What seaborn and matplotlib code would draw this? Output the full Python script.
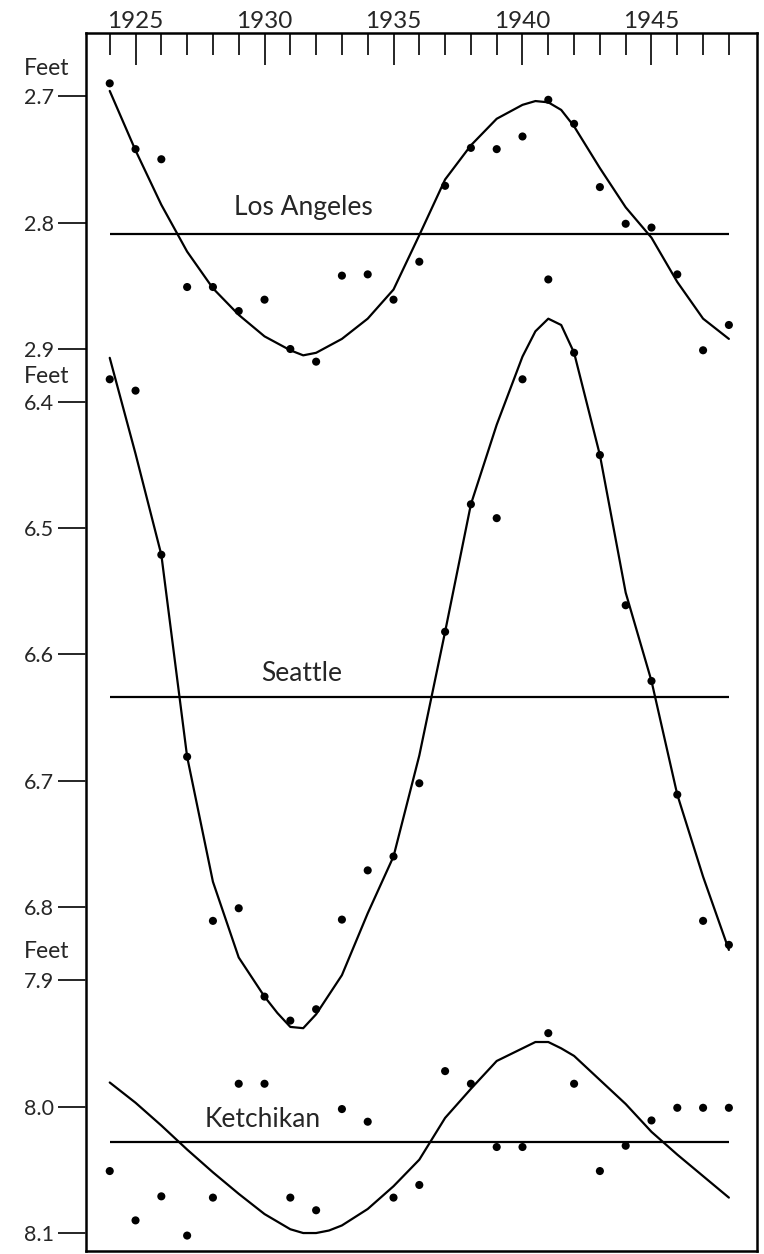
import numpy as np
import pandas as pd
import matplotlib
matplotlib.use('Agg')
import matplotlib.pyplot as plt
import seaborn as sns

sns.set_style('white')
plt.rcParams['font.family'] = ['Lato', 'DejaVu Sans']

# 年份（每年一个读数）
years = list(range(1924, 1949))
major_years = [1925, 1930, 1935, 1940, 1945]

# Los Angeles: 1941 有两个点
la_years = years[:18] + [1941] + years[18:]
la_values = [2.690, 2.742, 2.750, 2.851, 2.851, 2.870, 2.861, 2.900, 2.910,
             2.842, 2.841, 2.861, 2.831, 2.771, 2.741, 2.742, 2.732, 2.703,
             2.845, 2.722, 2.772, 2.801, 2.804, 2.841, 2.901, 2.881]
# 平滑曲线读数（极值附近多读半年）
la_curve_years = [1924, 1925, 1926, 1927, 1928, 1929, 1930, 1931, 1931.5, 1932,
                  1933, 1934, 1935, 1936, 1937, 1938, 1939, 1940, 1940.5, 1941,
                  1941.5, 1942, 1943, 1944, 1945, 1946, 1947, 1948]
la_curve = [2.696, 2.743, 2.786, 2.823, 2.852, 2.873, 2.890, 2.901, 2.905, 2.903,
            2.892, 2.876, 2.853, 2.810, 2.766, 2.739, 2.718, 2.707, 2.704, 2.705,
            2.711, 2.724, 2.757, 2.788, 2.812, 2.847, 2.876, 2.892]
la_mean = 2.809

# Seattle: 1941 没有点
se_years = [y for y in years if y != 1941]
se_values = [6.382, 6.391, 6.521, 6.681, 6.811, 6.801, 6.871, 6.890, 6.881,
             6.810, 6.771, 6.760, 6.702, 6.582, 6.481, 6.492, 6.382,
             6.361, 6.442, 6.561, 6.621, 6.711, 6.811, 6.830]
se_curve_years = [1924, 1925, 1926, 1927, 1928, 1929, 1930, 1930.5, 1931, 1931.5,
                  1932, 1933, 1934, 1935, 1936, 1937, 1938, 1939, 1940, 1940.5,
                  1941, 1941.5, 1942, 1943, 1944, 1945, 1946, 1947, 1948]
se_curve = [6.365, 6.441, 6.521, 6.681, 6.780, 6.840, 6.871, 6.884, 6.895, 6.896,
            6.885, 6.854, 6.805, 6.760, 6.680, 6.582, 6.481, 6.418, 6.364, 6.344,
            6.334, 6.339, 6.361, 6.442, 6.551, 6.621, 6.711, 6.776, 6.834]
se_mean = 6.634

# Ketchikan
ke_years = years
ke_values = [8.051, 8.090, 8.071, 8.102, 8.072, 7.982, 7.982, 8.072, 8.082,
             8.002, 8.012, 8.072, 8.062, 7.972, 7.982, 8.032, 8.032, 7.942,
             7.982, 8.051, 8.031, 8.011, 8.001, 8.001, 8.001]
ke_curve_years = [1924, 1925, 1926, 1927, 1928, 1929, 1930, 1931, 1931.5, 1932,
                  1932.5, 1933, 1934, 1935, 1936, 1937, 1938, 1939, 1940, 1940.5,
                  1941, 1941.5, 1942, 1943, 1944, 1945, 1946, 1947, 1948]
ke_curve = [7.981, 7.997, 8.015, 8.034, 8.052, 8.069, 8.085, 8.097, 8.100, 8.100,
            8.098, 8.094, 8.081, 8.063, 8.042, 8.009, 7.986, 7.964, 7.954, 7.949,
            7.949, 7.954, 7.960, 7.979, 7.998, 8.020, 8.038, 8.055, 8.072]
ke_mean = 8.028

la_ticks = [2.7, 2.8, 2.9]
se_ticks = [6.4, 6.5, 6.6, 6.7, 6.8]
ke_ticks = [7.9, 8.0, 8.1]

fig = plt.figure(figsize=(7.64, 12.54), dpi=100)
rect = [86 / 764, 1 - 1251 / 1254, 671 / 764, 1218 / 1254]

panels = [
    (la_years, la_values, la_curve_years, la_curve, la_mean, la_ticks, (3.6130, 2.6502)),
    (se_years, se_values, se_curve_years, se_curve, se_mean, se_ticks, (7.0725, 6.1077)),
    (ke_years, ke_values, ke_curve_years, ke_curve, ke_mean, ke_ticks, (8.1142, 7.1514)),
]

axes = []
for i, (px, py, cx, cy, mean, ticks, ylim) in enumerate(panels):
    ax = fig.add_axes(rect)
    if i > 0:
        ax.patch.set_visible(False)
    sns.lineplot(x=cx, y=cy, ax=ax, color='black', linewidth=1.6,
                 estimator=None, sort=True)
    sns.scatterplot(x=px, y=py, ax=ax, color='black', s=34, edgecolor='none')
    ax.hlines(mean, years[0], years[-1], color='black', linewidth=1.6)
    ax.set_xlim(1923.08, 1949.09)
    ax.set_ylim(*ylim)
    ax.set_xlabel('')
    ax.set_ylabel('')
    ax.set_yticks(ticks)
    ax.set_yticklabels([f'{t:.1f}' for t in ticks])
    ax.tick_params(axis='y', direction='out', length=20, width=1.4,
                   pad=3, labelsize=15.5, left=True)
    if i > 0:
        ax.set_xticks([])
        for s in ax.spines.values():
            s.set_visible(False)
    axes.append(ax)

ax_la = axes[0]
for s in ax_la.spines.values():
    s.set_visible(True)
    s.set_linewidth(1.8)
    s.set_color('black')
ax_la.xaxis.set_ticks_position('top')
ax_la.set_xticks(major_years)
ax_la.set_xticks(years, minor=True)
ax_la.set_xticklabels([str(y) for y in major_years])
ax_la.tick_params(axis='x', which='major', direction='in', length=23,
                  width=1.4, pad=1, labelsize=17.5, top=True, bottom=False)
ax_la.tick_params(axis='x', which='minor', direction='in', length=16,
                  width=1.4, top=True, bottom=False)

# 站点名称
axes[0].text(1931.5, 2.7939, 'Los Angeles', ha='center', va='baseline', fontsize=19)
axes[1].text(1931.44, 6.6209, 'Seattle', ha='center', va='baseline', fontsize=19)
axes[2].text(1929.93, 8.0165, 'Ketchikan', ha='center', va='baseline', fontsize=19)

# 单位标签
for yb in [75, 383, 958]:
    fig.text(24 / 764, 1 - yb / 1254, 'Feet', ha='left', va='baseline', fontsize=16.5)

fig.savefig('out.png', dpi=100)
